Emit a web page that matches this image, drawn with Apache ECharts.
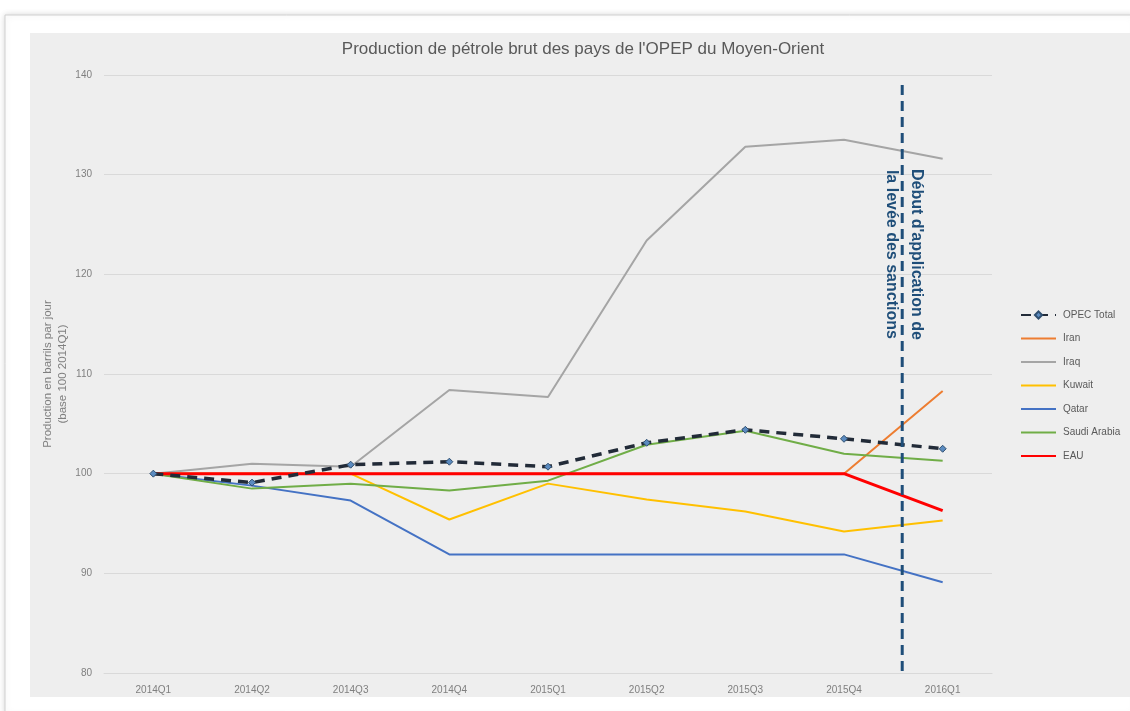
<!DOCTYPE html>
<html>
<head>
<meta charset="utf-8">
<script src="https://cdn.jsdelivr.net/npm/echarts@6/dist/echarts.min.js"></script>
<style>
  html, body { margin: 0; padding: 0; background: #fff; }
  #main { width: 1130px; height: 711px; }
</style>
</head>
<body>
<div id="main"></div>
<script>
// trimestres
var quarters = ['2014Q1', '2014Q2', '2014Q3', '2014Q4', '2015Q1', '2015Q2', '2015Q3', '2015Q4', '2016Q1'];

// production, base 100 = 2014Q1
var opecTotal = [100, 99.1, 100.9, 101.2, 100.7, 103.1, 104.4, 103.5, 102.5];
var iran      = [100, 100, 100, 100, 100, 100, 100, 100, 108.3];
var iraq      = [100, 101.0, 100.7, 108.4, 107.7, 123.4, 132.8, 133.5, 131.6];
var kuwait    = [100, 100, 100, 95.4, 99.0, 97.4, 96.2, 94.2, 95.3];
var qatar     = [100, 98.8, 97.3, 91.9, 91.9, 91.9, 91.9, 91.9, 89.1];
var saudi     = [100, 98.5, 99.0, 98.3, 99.3, 102.9, 104.3, 102.0, 101.3];
var eau       = [100, 100, 100, 100, 100, 100, 100, 100, 96.3];

var yTicks = { min: 80, max: 140, interval: 10 };

// position de la ligne "levée des sanctions" entre 2015Q4 et 2016Q1
var sanctionPos = 7.59;

var FONT = "'Liberation Sans Narrow', 'Liberation Sans', sans-serif";

var chart = echarts.init(document.getElementById('main'));

function simpleLine(name, data, color, width) {
    return {
        name: name,
        type: 'line',
        data: data,
        symbol: 'none',
        smooth: false,
        lineStyle: { color: color, width: width },
        itemStyle: { color: color }
    };
}

// pas de symbole dans la légende pour les séries sans marqueur
function legendItem(name) {
    return { name: name, itemStyle: { opacity: 0 } };
}

var option = {
    backgroundColor: '#ffffff',
    animation: false,
    textStyle: { fontFamily: FONT },
    title: {
        text: "Production de pétrole brut des pays de l'OPEP du Moyen-Orient",
        left: 578,
        textAlign: 'center',
        top: 36,
        textStyle: { fontFamily: FONT, fontSize: 17, fontWeight: 'normal', color: '#595959' }
    },
    legend: {
        orient: 'vertical',
        left: 1015,
        top: 305,
        itemWidth: 35,
        itemHeight: 9,
        itemGap: 13.5,
        textStyle: { fontFamily: FONT, fontSize: 10, color: '#595959', padding: [0, 0, 0, 2] },
        data: [
            'OPEC Total',
            legendItem('Iran'),
            legendItem('Iraq'),
            legendItem('Kuwait'),
            legendItem('Qatar'),
            legendItem('Saudi Arabia'),
            legendItem('EAU')
        ]
    },
    grid: { left: 104, right: 138, top: 75, bottom: 38 },
    xAxis: {
        type: 'category',
        data: quarters,
        boundaryGap: true,
        axisLine: { lineStyle: { color: '#d9d9d9', width: 1 } },
        axisTick: { show: false },
        axisLabel: { color: '#7f7f7f', fontSize: 10, margin: 12, fontFamily: FONT }
    },
    yAxis: {
        type: 'value',
        min: yTicks.min,
        max: yTicks.max,
        interval: yTicks.interval,
        name: 'Production en barrils par jour\n(base 100 2014Q1)',
        nameLocation: 'middle',
        nameRotate: 90,
        nameGap: 34,
        nameMoveOverlap: false,
        nameTextStyle: { color: '#7f7f7f', fontSize: 11.5, lineHeight: 15, fontFamily: FONT },
        axisLine: { show: false },
        axisTick: { show: false },
        axisLabel: { color: '#7f7f7f', fontSize: 10, margin: 12, fontFamily: FONT },
        splitLine: { lineStyle: { color: '#d9d9d9', width: 1 } }
    },
    series: [
        simpleLine('Iran', iran, '#ed7d31', 2),
        simpleLine('Iraq', iraq, '#a5a5a5', 2),
        simpleLine('Kuwait', kuwait, '#ffc000', 2),
        simpleLine('Qatar', qatar, '#4472c4', 2),
        simpleLine('Saudi Arabia', saudi, '#70ad47', 2),
        simpleLine('EAU', eau, '#ff0000', 3),
        {
            name: 'OPEC Total',
            type: 'line',
            data: opecTotal,
            symbol: 'diamond',
            symbolSize: 7,
            showAllSymbol: true,
            lineStyle: { color: '#222b38', width: 3.5, type: [10, 7] },
            itemStyle: { color: '#5b8bc0', borderColor: '#2f4f70', borderWidth: 1 }
        }
    ]
};

chart.setOption(option);

// cadre, fond du graphique et annotation
var xa = chart.convertToPixel({ xAxisIndex: 0 }, quarters[7]);
var xb = chart.convertToPixel({ xAxisIndex: 0 }, quarters[8]);
var xLine = xa + (xb - xa) * (sanctionPos - 7);
var yTop = chart.convertToPixel({ yAxisIndex: 0 }, 139);
var yBot = chart.convertToPixel({ yAxisIndex: 0 }, 80);
var yMid = chart.convertToPixel({ yAxisIndex: 0 }, 122);

chart.setOption({
    graphic: [
        {
            type: 'rect', z: -20, silent: true,
            shape: { x: 5, y: 15, width: 1130, height: 700 },
            style: { fill: '#ffffff', stroke: '#d0d0d0', lineWidth: 1, shadowBlur: 6, shadowColor: 'rgba(0,0,0,0.15)' }
        },
        {
            type: 'rect', z: -10, silent: true,
            shape: { x: 30, y: 33, width: 1100, height: 664 },
            style: { fill: '#eeeeee' }
        },
        {
            type: 'line', z: 50, silent: true,
            shape: { x1: xLine, y1: yTop, x2: xLine, y2: yBot },
            style: { stroke: '#1f4e79', lineWidth: 3, lineDash: [10, 6] }
        },
        {
            type: 'text', z: 50, silent: true,
            x: xLine + 2, y: yMid,
            rotation: -Math.PI / 2,
            style: {
                text: "Début d'application de\nla levée des sanctions",
                fill: '#1f4e79',
                font: 'bold 16px ' + FONT,
                align: 'center',
                verticalAlign: 'middle',
                lineHeight: 25
            }
        }
    ]
});
</script>
</body>
</html>
